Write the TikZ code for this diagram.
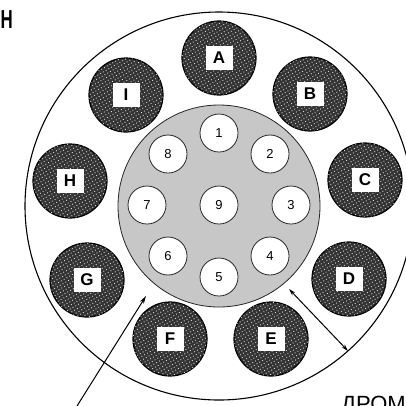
\documentclass[tikz,border=0pt]{standalone}
\usepackage{fontspec}
\setmainfont{Liberation Sans}
\usetikzlibrary{patterns.meta,arrows.meta}

\tikzset{
  rim/.style={circle,draw=black,line width=1.1pt,minimum size=388pt,inner sep=0pt},
  hub/.style={circle,draw=black!85,line width=0.8pt,fill=black!22,minimum size=202pt,inner sep=0pt},
  darkdisc/.style={circle,draw=black,line width=1.2pt,fill=black!80,minimum size=74pt,inner sep=0pt,
    postaction={pattern={Dots[radius=0.65pt,distance=3.2pt,angle=30]},pattern color=white!85!black}},
  tagbox/.style={fill=white,minimum width=27pt,minimum height=24pt,inner sep=0pt,
    font=\bfseries\fontsize{17}{17}\selectfont},
  pin/.style={circle,draw=black!85,line width=0.8pt,fill=white,minimum size=38pt,inner sep=0pt,
    font=\fontsize{13}{13}\selectfont},
  pointer/.style={line width=1pt,-{Stealth[length=8pt,width=4.5pt]}}
}

\begin{document}
\begin{tikzpicture}[x=1pt,y=-1pt]
        \useasboundingbox (0,0) rectangle (406,405);
        \draw (219,206) node[rim] (rim) {};
        \draw (219,206) node[hub] (hub) {};
        % outer ring of discs
        \draw (219,58) node[darkdisc] (A) {};
        \draw (310,94) node[darkdisc] (B) {};
        \draw (365,180) node[darkdisc] (C) {};
        \draw (349,279) node[darkdisc] (D) {};
        \draw (271,339) node[darkdisc] (E) {};
        \draw (170,339) node[darkdisc] (F) {};
        \draw (87,280) node[darkdisc] (G) {};
        \draw (70,181) node[darkdisc] (H) {};
        \draw (126,95) node[darkdisc] (I) {};
        \node[tagbox] (tA) at (A) {A};
        \node[tagbox] (tB) at (B) {B};
        \node[tagbox] (tC) at (C) {C};
        \node[tagbox] (tD) at (D) {D};
        \node[tagbox] (tE) at (E) {E};
        \node[tagbox] (tF) at (F) {F};
        \node[tagbox] (tG) at (G) {G};
        \node[tagbox] (tH) at (H) {H};
        \node[tagbox] (tI) at (I) {I};
        % inner ring
        \draw (219,133) node[pin] (p1) {1};
        \draw (270,154) node[pin] (p2) {2};
        \draw (291,205) node[pin] (p3) {3};
        \draw (270,256) node[pin] (p4) {4};
        \draw (219,277) node[pin] (p5) {5};
        \draw (168,256) node[pin] (p6) {6};
        \draw (147,205) node[pin] (p7) {7};
        \draw (168,154) node[pin] (p8) {8};
        \draw (219,205) node[pin] (p9) {9};
        % arrows
        \coordinate (tailL) at (77,406);
        \coordinate (tipL) at (146,296);
        \coordinate (gapIn) at (289,289);
        \coordinate (gapOut) at (348,351);
        \draw[pointer] (tailL)--(tipL);
        \draw[pointer,{Stealth[length=7pt,width=4pt]}-{Stealth[length=7pt,width=4pt]}] (gapIn)--(gapOut);
        % texts
        \node[anchor=west,inner sep=0pt,xscale=0.65,font=\bfseries\fontsize{26}{26}\selectfont] (head) at (0.5,20) {H};
        \node[anchor=north west,inner sep=0pt,font=\fontsize{22}{22}\selectfont] (foot) at (341,396) {ДРОМ};
\end{tikzpicture}
\end{document}
